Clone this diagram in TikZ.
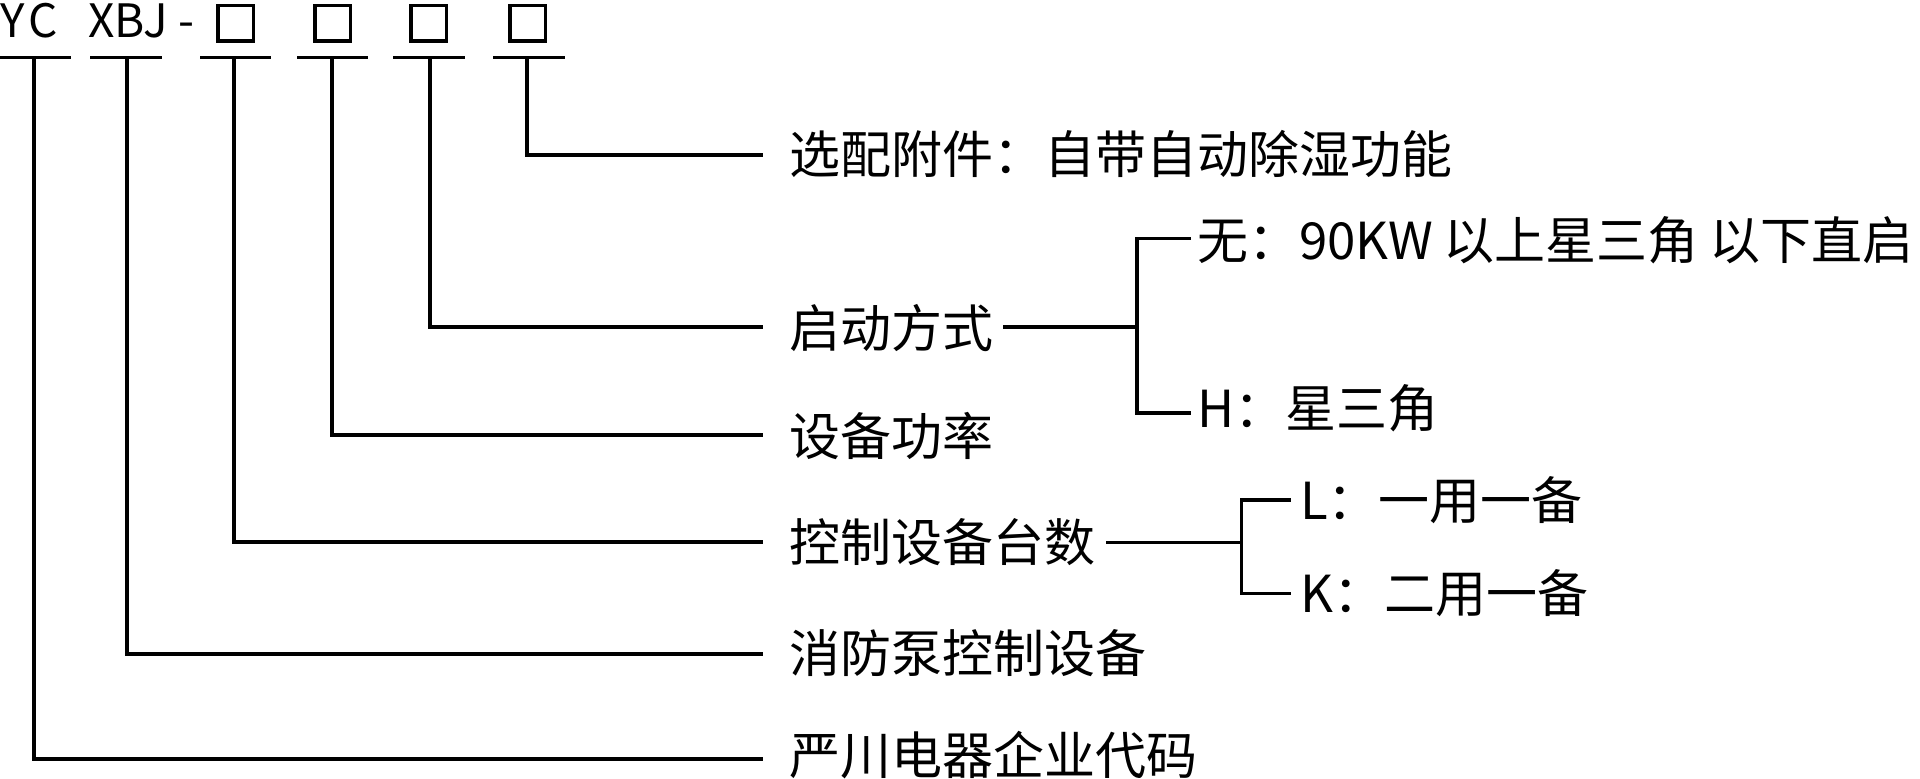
\documentclass[tikz,border=0pt]{standalone}
\usepackage{fontspec}
\newfontfamily\cjk{Noto Sans CJK SC}
\begin{document}
\begin{tikzpicture}[x=1pt,y=-1pt,
  ln/.style={line width=3.3pt},
  lab/.style={inner sep=0pt,anchor=base west,font=\cjk\fontsize{51}{60}\selectfont},
  blab/.style={inner sep=0pt,anchor=base west,font=\cjk\fontsize{51}{60}\selectfont},
  tlab/.style={inner sep=0pt,anchor=base west,font=\cjk\fontsize{46}{54}\selectfont},
  bx/.style={draw,line width=3.5pt,minimum size=35.5pt,inner sep=0pt}]
\useasboundingbox (0,0) rectangle (1920,779);
% title
\node[tlab] (yc) at (0,37.5) {Y\kern4ptC};
\node[tlab] (xbj) at (88,37.5) {XBJ};
\node[tlab] (dash) at (178,37.5) {-};
\node[bx] (b1) at (235.5,23.3) {};
\node[bx] (b2) at (332.5,23.3) {};
\node[bx] (b3) at (428.5,23.3) {};
\node[bx] (b4) at (527.5,23.3) {};
% underline segments
\draw[ln] (0,57.3) -- (71,57.3);
\draw[ln] (90,57.3) -- (162,57.3);
\draw[ln] (200,57.3) -- (271,57.3);
\draw[ln] (297,57.3) -- (368,57.3);
\draw[ln] (393,57.3) -- (465,57.3);
\draw[ln] (493,57.3) -- (565,57.3);
\coordinate (u1) at (34,57.3);
\coordinate (u2) at (127,57.3);
\coordinate (u3) at (234,57.3);
\coordinate (u4) at (332,57.3);
\coordinate (u5) at (430,57.3);
\coordinate (u6) at (527,57.3);
% labels
\node[lab] (l6) at (789,173) {选配附件：自带自动除湿功能};
\node[lab] (l5) at (789,347) {启动方式};
\node[lab] (l4) at (789,455) {设备功率};
\node[lab] (l3) at (789,561) {控制设备台数};
\node[lab] (l2) at (789,672) {消防泵控制设备};
\node[lab] (l1) at (789,774.5) {严川电器企业代码};
\coordinate (e6) at (763,155);
\coordinate (e5) at (763,327);
\coordinate (e4) at (763,435);
\coordinate (e3) at (763,542);
\coordinate (e2) at (763,654);
\coordinate (e1) at (763,759);
\draw[ln] (u6) |- (e6);
\draw[ln] (u5) |- (e5);
\draw[ln] (u4) |- (e4);
\draw[ln] (u3) |- (e3);
\draw[ln] (u2) |- (e2);
\draw[ln] (u1) |- (e1);
% branch: start mode
\node[blab] (wu) at (1197,259) {无：90KW\kern11pt 以上星三角\kern11pt 以下直启};
\node[blab] (hh) at (1197,427) {H：星三角};
\coordinate (s5) at (1003,327);
\coordinate (j5) at (1137,327);
\coordinate (t5) at (1191,238.3);
\coordinate (d5) at (1191,413);
\draw[ln] (s5) -- (j5);
\draw[ln] (t5) -| (j5) |- (d5);
% branch: device count
\node[blab] (ll) at (1300,519) {L：一用一备};
\node[blab] (kk) at (1300,612) {K：二用一备};
\coordinate (s3) at (1106,542.3);
\coordinate (j3) at (1241.7,542.3);
\coordinate (t3) at (1290.7,500);
\coordinate (d3) at (1290.7,593.3);
\draw[ln] (s3) -- (j3);
\draw[ln] (t3) -| (j3) |- (d3);
\end{tikzpicture}
\end{document}
